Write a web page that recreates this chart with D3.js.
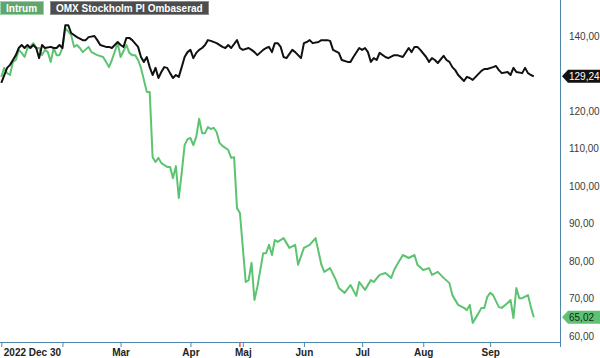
<!DOCTYPE html>
<html><head><meta charset="utf-8">
<script src="https://cdn.jsdelivr.net/npm/d3@7"></script>
<style>
html,body{margin:0;padding:0;background:#fff;}
svg{display:block;font-family:"Liberation Sans",Arial,sans-serif;}
</style></head><body>
<svg id="c" width="600" height="358"></svg>
<script>
// ---- data (trading-day index since 2022-12-30, rebased value) ----
const omxDays = [0,2,3,4,5,6,7,8,9,10,11,12,13,14,15,17,18,19,20,21,22,23,24,26,28,29,30,32,33,34,36,37,38,40,41,42,43,44,45,47,48,49,50,51,52,53,54,55,56,57,58,59,60,61,62,63,64,65,66,67,68,69,70,71,72,74,76,77,78,79,81,82,83,85,86,87,88,90,91,92,93,94,95,96,97,98,100,101,102,103,104,105,106,107,109,110,112,113,114,116,117,119,120,121,123,124,125,126,127,128,129,130,132,133,135,136,138,140,141,142,143,144,146,147,148,149,150,152,153,154,155,156,157,159,160,161,162,163,165,166,167,169,170,171,172,174,175,176,177,179,180,181,182,183];
const omxValues = [127.5,131.5,132.3,133.6,134.9,136.8,137.6,136.8,137.6,136.8,137.6,136.8,134.1,137.6,136.8,137.1,136.8,136.8,137.6,136.8,142.9,142.9,140.8,139.7,138.9,138.9,139.7,140.0,138.9,137.6,137.1,137.1,136.8,138.4,137.6,137.1,139.5,139.5,138.9,137.1,134.4,133.1,134.4,131.7,129.6,131.5,128.8,130.4,131.7,131.5,130.1,128.8,129.6,129.1,131.7,134.4,135.7,136.3,134.1,135.5,136.3,136.8,137.6,138.9,138.7,138.1,137.1,136.8,137.6,136.8,138.9,136.8,136.3,136.8,136.3,135.7,134.9,136.3,136.8,137.1,135.7,138.1,138.1,137.1,134.4,134.1,136.3,135.7,134.9,134.1,138.1,138.4,138.9,138.1,138.4,138.9,138.9,138.7,136.3,135.5,133.6,133.1,133.1,134.4,136.8,136.3,136.8,135.7,133.1,134.1,133.6,135.5,134.4,134.1,134.9,134.9,134.4,136.8,135.7,137.1,137.1,136.3,134.4,133.1,134.1,133.6,132.8,134.7,133.6,133.1,131.7,130.9,129.6,128.0,129.1,128.8,128.3,129.1,130.7,131.2,131.2,131.7,132.0,130.9,130.1,130.4,129.6,131.5,130.4,130.1,131.5,130.1,129.6,129.24];

const intrumDays = [0,1,2,3,4,5,6,7,8,9,10,11,12,13,14,15,16,17,18,19,20,21,22,24,25,26,27,28,30,31,33,35,36,37,38,40,41,43,44,45,46,47,48,49,50,51,52,53,54,55,57,58,59,60,61,62,63,64,65,66,67,68,69,70,71,72,73,74,75,76,78,79,80,81,82,84,85,86,87,88,90,91,92,93,94,95,97,99,101,102,104,106,108,110,111,113,115,116,118,120,122,123,125,127,128,130,132,134,135,136,138,140,142,143,145,147,148,150,152,154,155,157,159,160,161,162,164,165,166,167,168,169,171,172,174,175,176,177,178,179,181,182,183];
const intrumValues = [129.1,131.5,130.1,129.6,133.1,133.6,136.3,135.5,134.4,136.8,137.1,138.1,136.8,136.8,134.9,136.3,135.7,133.1,136.8,134.9,134.9,136.8,142.1,140.3,137.1,137.6,136.8,135.7,137.1,135.7,134.9,134.4,133.1,131.7,133.6,138.1,134.4,137.6,135.5,134.9,134.9,133.6,131.5,128.3,125.1,125.1,107.7,106.4,107.5,106.1,105.1,105.1,102.1,105.3,96.8,103.5,110.9,112.5,112.8,110.9,113.1,117.9,114.1,114.1,115.7,115.2,115.5,114.4,111.5,110.7,109.6,107.5,107.7,94.1,92.8,74.4,74.9,79.5,69.6,73.1,82.1,82.1,84.3,81.6,85.6,85.1,86.1,83.5,84.3,79.0,83.5,84.3,86.1,79.0,77.1,78.1,74.9,72.8,71.5,73.6,70.7,74.4,72.3,74.9,74.4,76.3,76.8,75.5,77.6,79.0,81.6,80.8,81.6,79.0,77.6,78.1,76.3,77.1,75.5,74.1,70.9,68.3,67.5,66.9,68.3,63.5,66.1,67.5,67.5,70.4,71.5,70.9,67.7,67.5,68.8,69.6,64.8,72.8,70.1,70.1,70.9,67.7,65.02];

const xTickDays   = [0, 21, 41, 65, 83, 104, 124, 145, 168];
const xTickLabels = ["2022 Dec 30", "", "Mar", "Apr", "Maj", "Jun", "Jul", "Aug", "Sep"];
const yTicks = [60, 70, 80, 90, 100, 110, 120, 130, 140];
const dividendDays = [82];
const seriesNames = ["Intrum", "OMX Stockholm PI Ombaserad"];

// ---- layout ----
const W = 600, H = 358;
const plotRight = 560, plotBottom = 342;
const axisColor = "#4f86ab";
const greenColor = "#5cc470";
const blackColor = "#111111";
const FONT = '"Liberation Sans",Arial,sans-serif';

const svg = d3.select("#c");
const x = d3.scaleLinear().domain([0, 192]).range([1.3, plotRight]);
const y = d3.scaleLinear().domain([60, 140]).range([336, 36]);

const fmt = v => d3.format(".2f")(v).replace(".", ",");
const lastOmx = omxValues[omxValues.length - 1];
const lastIntrum = intrumValues[intrumValues.length - 1];

// lines
const line = d3.line().x(d => x(d[0])).y(d => y(d[1]));
const omx = omxDays.map((d, i) => [d, omxValues[i]]);
const intrum = intrumDays.map((d, i) => [d, intrumValues[i]]);

svg.append("path").datum(intrum).attr("d", line)
  .attr("fill", "none").attr("stroke", greenColor).attr("stroke-width", 2)
  .attr("stroke-linejoin", "round");
svg.append("path").datum(omx).attr("d", line)
  .attr("fill", "none").attr("stroke", blackColor).attr("stroke-width", 2)
  .attr("stroke-linejoin", "round");

// right axis (labels hidden where the end tags cover them)
const tagValues = [lastOmx, lastIntrum];
const visibleYTicks = yTicks.filter(t => tagValues.every(v => Math.abs(y(t) - y(v)) > 9));
const yAxis = d3.axisRight(y).tickValues(visibleYTicks).tickSize(0).tickPadding(9).tickFormat(fmt);
const gy = svg.append("g").attr("transform", `translate(${plotRight},0)`).call(yAxis);
gy.select(".domain").remove();
gy.selectAll("text").attr("font-size", 10).attr("fill", "#3a3a3a").attr("font-family", FONT);
svg.append("line").attr("x1", plotRight + 0.5).attr("x2", plotRight + 0.5)
  .attr("y1", 0).attr("y2", plotBottom + 5).attr("stroke", axisColor).attr("stroke-width", 1);

// bottom axis
const xAxis = d3.axisBottom(x).tickValues(xTickDays).tickSize(5).tickSizeOuter(0)
  .tickFormat((d, i) => xTickLabels[i]);
const gx = svg.append("g").attr("transform", `translate(0,${plotBottom})`).call(xAxis);
gx.select(".domain").attr("stroke", axisColor).attr("d", `M0,0.5H${plotRight}`);
gx.selectAll(".tick line").attr("stroke", axisColor);
gx.selectAll("text").attr("font-size", 10).attr("font-weight", "bold").attr("fill", "#222")
  .attr("font-family", FONT).attr("y", 14).attr("dy", 0);
gx.selectAll(".tick").filter(d => d === 0).select("text").attr("text-anchor", "start").attr("x", 2);
svg.append("line").attr("x1", plotRight + 0.5).attr("x2", plotRight + 0.5)
  .attr("y1", plotBottom).attr("y2", plotBottom + 5).attr("stroke", axisColor);

// dividend markers
svg.selectAll(".div").data(dividendDays).enter().append("line")
  .attr("x1", d => x(d)).attr("x2", d => x(d))
  .attr("y1", plotBottom).attr("y2", plotBottom + 5)
  .attr("stroke", "#e8505a").attr("stroke-width", 1.5);

// end tags
function tag(v, fill, textColor) {
  const cy = y(v);
  const g = svg.append("g");
  g.append("path")
    .attr("d", `M${plotRight + 2},${cy} L${plotRight + 8},${cy - 6.5} L${W},${cy - 6.5} L${W},${cy + 6.5} L${plotRight + 8},${cy + 6.5} Z`)
    .attr("fill", fill);
  g.append("text").attr("x", plotRight + 9).attr("y", cy + 3.6)
    .attr("font-size", 10).attr("fill", textColor).attr("font-family", FONT).text(fmt(v));
}
tag(lastOmx, "#111", "#fff");
tag(lastIntrum, greenColor, "#222");

// legend
const leg = svg.append("g");
const legItems = [
  {name: seriesNames[0], x: 0, w: 43, fill: "#5fa56d", stroke: "#9ad3a6"},
  {name: seriesNames[1], x: 50, w: 158, fill: "#4d4d4d", stroke: "#8a8a8a"}
];
legItems.forEach(it => {
  leg.append("rect").attr("x", it.x + 0.5).attr("y", 1.5).attr("width", it.w).attr("height", 13)
    .attr("fill", it.fill).attr("stroke", it.stroke).attr("stroke-width", 1);
  leg.append("text").attr("x", it.x + 6).attr("y", 11.5).attr("font-size", 10)
    .attr("font-weight", "bold").attr("fill", "#fff").attr("font-family", FONT).text(it.name);
});
</script>
</body></html>
